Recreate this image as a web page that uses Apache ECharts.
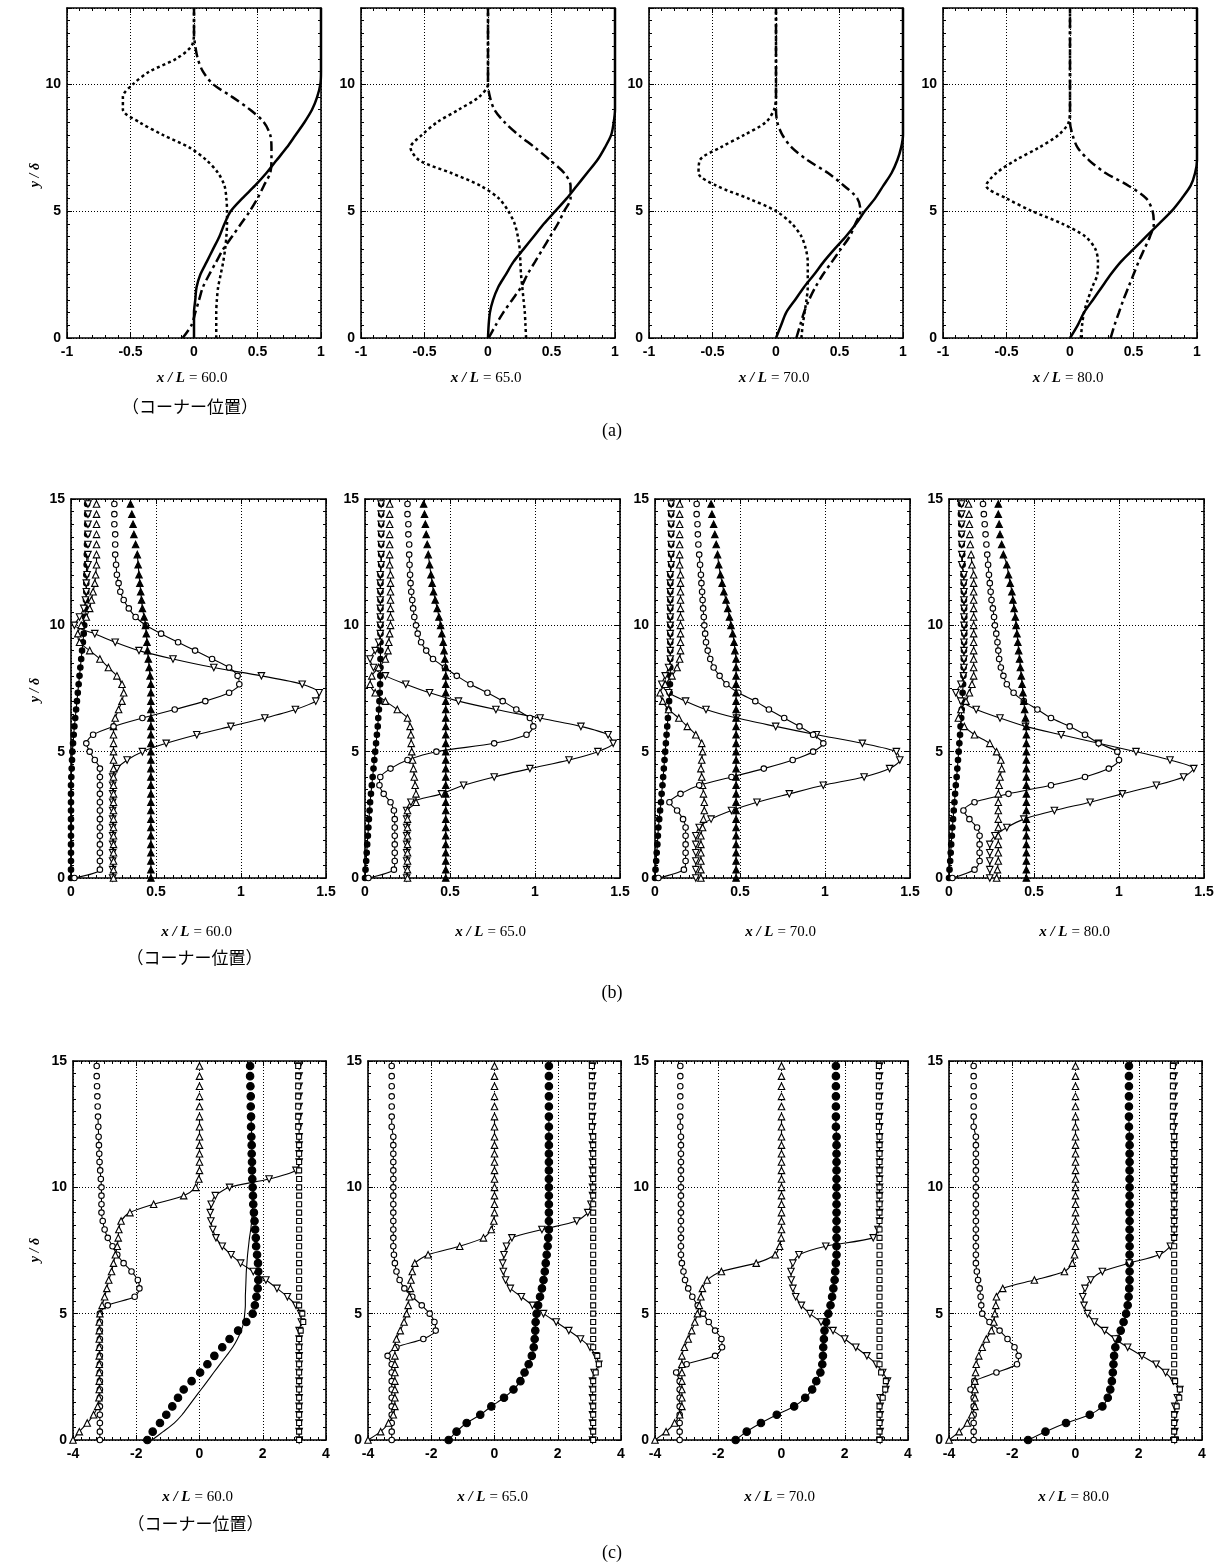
<!DOCTYPE html>
<html><head><meta charset="utf-8">
<script src="https://cdn.jsdelivr.net/npm/echarts@6/dist/echarts.min.js"></script>
<style>html,body{margin:0;padding:0;background:#fff}#c{width:1225px;height:1567px}</style>
</head><body><div id="c"></div>
<script>
// ---------- labels ----------
const stations = ['60.0', '65.0', '70.0', '80.0'];
const cornerNote = '（コーナー位置）';
const rowTags = ['(a)', '(b)', '(c)'];
const yTitle = 'y / δ';
// axis ranges [min, max, interval, minorSplit]
const xRangeA = [-1, 1, 0.5, 5], yRangeA = [0, 13, 5, 10];
const xRangeB = [0, 1.5, 0.5, 10], yRangeB = [0, 15, 5, 10];
const xRangeC = [-4, 4, 2, 8], yRangeC = [0, 15, 5, 10];

// ---------- row (a) : y positions and curves ----------
const yA = [0,0.5,1,1.5,2,2.5,3,3.5,4,4.5,5,5.5,6,6.5,7,7.5,8,8.5,9,9.5,10,10.5,11,11.5,12,12.5,13];
const a60Solid = [0,0,0,0.01,0.02,0.05,0.1,0.15,0.2,0.24,0.29,0.38,0.48,0.57,0.65,0.73,0.8,0.87,0.93,0.97,0.995,1,1,1,1,1,1];
const a60Dot   = [0.175,0.175,0.175,0.18,0.19,0.21,0.23,0.245,0.255,0.26,0.26,0.255,0.24,0.19,0.1,-0.035,-0.245,-0.43,-0.56,-0.56,-0.48,-0.35,-0.14,-0.02,0,0,0];
const a60Dash  = [-0.09,-0.02,0.01,0.04,0.07,0.12,0.175,0.23,0.3,0.37,0.44,0.5,0.55,0.6,0.61,0.61,0.6,0.55,0.44,0.3,0.15,0.07,0.03,0.01,0,0,0];
const a65Solid = [0,0.005,0.015,0.04,0.08,0.14,0.2,0.28,0.36,0.44,0.53,0.62,0.7,0.78,0.86,0.92,0.97,0.99,1,1,1,1,1,1,1,1,1];
const a65Dot   = [0.3,0.295,0.29,0.28,0.27,0.26,0.255,0.25,0.235,0.21,0.16,0.085,-0.06,-0.29,-0.54,-0.61,-0.52,-0.4,-0.23,-0.07,0,0,0,0,0,0,0];
const a65Dash  = [0.005,0.06,0.12,0.19,0.26,0.31,0.37,0.43,0.49,0.55,0.6,0.65,0.65,0.6,0.49,0.37,0.24,0.13,0.05,0.015,0,0,0,0,0,0,0];
const a70Solid = [0,0.04,0.08,0.15,0.22,0.3,0.375,0.46,0.55,0.63,0.7,0.78,0.845,0.91,0.955,0.985,1,1,1,1,1,1,1,1,1,1,1];
const a70Dot   = [0.2,0.21,0.225,0.24,0.25,0.25,0.25,0.235,0.2,0.125,0,-0.22,-0.47,-0.61,-0.6,-0.44,-0.25,-0.08,-0.015,0,0,0,0,0,0,0,0];
const a70Dash  = [0.16,0.19,0.22,0.26,0.31,0.37,0.44,0.51,0.58,0.625,0.665,0.64,0.535,0.41,0.25,0.125,0.05,0.01,0,0,0,0,0,0,0,0,0];
const a80Solid = [0,0.06,0.11,0.18,0.25,0.32,0.4,0.5,0.6,0.7,0.8,0.88,0.95,0.985,1,1,1,1,1,1,1,1,1,1,1,1,1];
const a80Dot   = [0.085,0.095,0.11,0.14,0.175,0.215,0.22,0.2,0.12,-0.06,-0.3,-0.5,-0.66,-0.58,-0.43,-0.245,-0.09,-0.01,0,0,0,0,0,0,0,0,0];
const a80Dash  = [0.32,0.35,0.385,0.42,0.46,0.5,0.54,0.585,0.63,0.66,0.65,0.6,0.46,0.28,0.15,0.06,0.02,0,0,0,0,0,0,0,0,0,0];

// ---------- rows (b),(c): measurement heights ----------
const yP = [0,0.33,0.67,1,1.33,1.67,2,2.33,2.67,3,3.33,3.67,4,4.33,4.67,5,5.33,5.67,6,6.33,6.67,7,7.33,7.67,8,8.33,8.67,9,9.33,9.67,10,10.33,10.67,11,11.33,11.67,12,12.4,12.8,13.2,13.6,14,14.4,14.8];

// ---------- row (b) ----------
const b60Fill = [0,0,0,0,0,0,0,0,0,0,0,0,0.002,0.004,0.006,0.008,0.012,0.016,0.02,0.025,0.03,0.035,0.04,0.045,0.05,0.055,0.06,0.065,0.07,0.075,0.078,0.082,0.085,0.088,0.09,0.09,0.09,0.092,0.093,0.094,0.095,0.095,0.095,0.095];
const b60Dn   = [0.245,0.245,0.245,0.245,0.245,0.245,0.245,0.245,0.245,0.245,0.245,0.245,0.245,0.27,0.33,0.42,0.56,0.74,0.94,1.14,1.32,1.44,1.46,1.36,1.12,0.84,0.6,0.4,0.26,0.14,0.02,0.05,0.075,0.085,0.09,0.09,0.095,0.1,0.1,0.1,0.1,0.1,0.1,0.1];
const b60Up   = [0.25,0.25,0.25,0.25,0.25,0.25,0.25,0.25,0.25,0.25,0.25,0.25,0.25,0.25,0.25,0.25,0.25,0.25,0.25,0.26,0.28,0.3,0.31,0.3,0.27,0.22,0.17,0.11,0.05,0.04,0.06,0.09,0.11,0.12,0.13,0.14,0.145,0.15,0.15,0.15,0.15,0.15,0.15,0.15];
const b60Circ = [0.02,0.17,0.17,0.17,0.17,0.17,0.17,0.17,0.17,0.17,0.17,0.17,0.17,0.17,0.14,0.11,0.09,0.13,0.25,0.42,0.61,0.79,0.93,0.99,0.98,0.93,0.83,0.73,0.63,0.53,0.44,0.38,0.34,0.31,0.29,0.28,0.27,0.265,0.26,0.26,0.26,0.255,0.255,0.255];
const b60Tri  = [0.47,0.47,0.47,0.47,0.47,0.47,0.47,0.47,0.47,0.47,0.47,0.47,0.47,0.47,0.47,0.47,0.47,0.47,0.47,0.47,0.47,0.47,0.47,0.47,0.465,0.46,0.455,0.45,0.447,0.443,0.438,0.43,0.42,0.415,0.41,0.405,0.4,0.395,0.39,0.38,0.37,0.365,0.358,0.35];

const b65Fill = [0,0.003,0.007,0.01,0.013,0.017,0.02,0.023,0.027,0.03,0.035,0.04,0.045,0.05,0.055,0.06,0.065,0.07,0.075,0.078,0.082,0.085,0.087,0.089,0.09,0.091,0.091,0.091,0.091,0.091,0.091,0.091,0.091,0.091,0.091,0.091,0.091,0.095,0.095,0.095,0.095,0.095,0.095,0.095];
const b65Dn   = [0.245,0.245,0.245,0.245,0.245,0.245,0.245,0.245,0.245,0.27,0.45,0.58,0.76,0.97,1.2,1.37,1.46,1.43,1.27,1.03,0.77,0.55,0.38,0.24,0.12,0.05,0.03,0.06,0.08,0.09,0.09,0.09,0.09,0.09,0.09,0.09,0.09,0.095,0.095,0.095,0.095,0.095,0.095,0.095];
const b65Up   = [0.25,0.25,0.25,0.25,0.25,0.25,0.25,0.25,0.25,0.3,0.3,0.295,0.29,0.285,0.28,0.275,0.272,0.27,0.265,0.25,0.19,0.12,0.06,0.03,0.04,0.08,0.12,0.135,0.14,0.145,0.15,0.15,0.15,0.15,0.15,0.15,0.15,0.145,0.145,0.145,0.145,0.145,0.145,0.145];
const b65Circ = [0.02,0.17,0.175,0.175,0.175,0.175,0.175,0.175,0.17,0.15,0.11,0.085,0.09,0.15,0.25,0.42,0.76,0.95,0.99,0.97,0.89,0.81,0.72,0.62,0.54,0.47,0.4,0.36,0.33,0.31,0.3,0.29,0.283,0.278,0.272,0.268,0.265,0.262,0.26,0.26,0.255,0.255,0.25,0.25];
const b65Tri  = [0.475,0.475,0.475,0.475,0.475,0.475,0.475,0.475,0.475,0.475,0.475,0.475,0.475,0.475,0.475,0.475,0.475,0.475,0.475,0.475,0.475,0.475,0.475,0.475,0.475,0.475,0.47,0.465,0.46,0.452,0.445,0.435,0.425,0.413,0.403,0.395,0.388,0.38,0.372,0.366,0.36,0.355,0.35,0.345];

const b70Fill = [0,0.003,0.007,0.01,0.014,0.017,0.02,0.025,0.03,0.035,0.039,0.044,0.048,0.052,0.056,0.06,0.064,0.068,0.072,0.076,0.08,0.083,0.086,0.088,0.09,0.09,0.09,0.09,0.09,0.09,0.09,0.09,0.09,0.09,0.09,0.09,0.09,0.095,0.095,0.095,0.095,0.095,0.095,0.095];
const b70Dn   = [0.24,0.24,0.24,0.24,0.24,0.24,0.26,0.33,0.45,0.6,0.79,0.99,1.23,1.38,1.44,1.42,1.22,0.95,0.71,0.48,0.3,0.18,0.08,0.04,0.06,0.08,0.09,0.09,0.09,0.09,0.09,0.09,0.09,0.09,0.09,0.09,0.09,0.095,0.095,0.095,0.095,0.095,0.095,0.095];
const b70Up   = [0.27,0.27,0.27,0.27,0.27,0.27,0.28,0.285,0.29,0.29,0.285,0.28,0.275,0.27,0.275,0.28,0.275,0.24,0.19,0.14,0.08,0.045,0.03,0.06,0.1,0.13,0.145,0.15,0.15,0.15,0.15,0.15,0.15,0.15,0.15,0.15,0.15,0.145,0.145,0.145,0.145,0.145,0.145,0.145];
const b70Circ = [0.02,0.17,0.18,0.18,0.18,0.18,0.18,0.165,0.13,0.085,0.15,0.26,0.45,0.64,0.81,0.93,0.99,0.93,0.85,0.76,0.67,0.59,0.49,0.42,0.38,0.345,0.325,0.31,0.3,0.295,0.29,0.287,0.283,0.28,0.277,0.273,0.27,0.265,0.26,0.255,0.252,0.25,0.245,0.245];
const b70Tri  = [0.477,0.477,0.477,0.477,0.477,0.477,0.477,0.477,0.477,0.477,0.477,0.477,0.477,0.477,0.477,0.477,0.477,0.477,0.477,0.477,0.477,0.477,0.477,0.477,0.477,0.477,0.477,0.47,0.465,0.457,0.447,0.438,0.428,0.418,0.405,0.395,0.385,0.375,0.368,0.36,0.352,0.345,0.335,0.33];

const b80Fill = [0,0.003,0.007,0.01,0.013,0.017,0.02,0.024,0.028,0.032,0.036,0.04,0.045,0.049,0.053,0.057,0.061,0.065,0.068,0.072,0.075,0.078,0.08,0.083,0.085,0.086,0.087,0.088,0.089,0.09,0.09,0.09,0.089,0.088,0.087,0.086,0.085,0.08,0.078,0.075,0.073,0.072,0.07,0.07];
const b80Dn   = [0.24,0.24,0.24,0.24,0.24,0.27,0.34,0.44,0.62,0.83,1.02,1.22,1.38,1.44,1.3,1.1,0.88,0.66,0.45,0.3,0.16,0.07,0.04,0.07,0.085,0.088,0.088,0.088,0.088,0.088,0.088,0.088,0.088,0.088,0.088,0.088,0.088,0.075,0.075,0.075,0.075,0.075,0.075,0.075];
const b80Up   = [0.28,0.285,0.29,0.29,0.29,0.29,0.29,0.29,0.29,0.29,0.29,0.295,0.3,0.31,0.305,0.28,0.24,0.15,0.09,0.055,0.07,0.1,0.12,0.135,0.145,0.145,0.145,0.145,0.145,0.145,0.145,0.145,0.145,0.145,0.145,0.145,0.145,0.135,0.13,0.125,0.122,0.12,0.118,0.115];
const b80Circ = [0.02,0.15,0.18,0.18,0.18,0.18,0.165,0.12,0.085,0.15,0.35,0.6,0.8,0.94,1.0,0.99,0.88,0.8,0.71,0.6,0.52,0.44,0.38,0.34,0.32,0.305,0.295,0.29,0.285,0.278,0.27,0.265,0.258,0.25,0.245,0.24,0.235,0.23,0.225,0.22,0.215,0.21,0.205,0.2];
const b80Tri  = [0.455,0.455,0.455,0.455,0.455,0.455,0.455,0.455,0.455,0.455,0.455,0.455,0.455,0.455,0.455,0.455,0.455,0.455,0.455,0.45,0.445,0.44,0.435,0.43,0.425,0.42,0.415,0.41,0.405,0.4,0.395,0.39,0.383,0.376,0.37,0.36,0.35,0.34,0.32,0.31,0.3,0.295,0.29,0.29];

// ---------- row (c) ----------
const c60Circ = [-3.15,-3.15,-3.15,-3.15,-3.15,-3.15,-3.15,-3.15,-3.15,-3.15,-3.15,-3.15,-3.15,-3.15,-3.15,-3.15,-2.9,-2.05,-1.9,-1.95,-2.15,-2.4,-2.6,-2.75,-2.9,-3.0,-3.06,-3.1,-3.1,-3.1,-3.1,-3.12,-3.14,-3.16,-3.17,-3.18,-3.19,-3.2,-3.21,-3.22,-3.23,-3.24,-3.25,-3.25];
const c60Up   = [-4.0,-3.8,-3.55,-3.35,-3.22,-3.18,-3.17,-3.17,-3.17,-3.17,-3.17,-3.17,-3.17,-3.17,-3.17,-3.15,-3.08,-3.0,-2.93,-2.87,-2.78,-2.72,-2.66,-2.6,-2.57,-2.55,-2.48,-2.2,-1.45,-0.5,-0.12,-0.02,0,0,0,0,0,0,0,0,0,0,0,0];
const c60Fill = [-1.65,-1.48,-1.25,-1.05,-0.86,-0.68,-0.5,-0.25,0.02,0.25,0.47,0.72,0.95,1.22,1.48,1.68,1.75,1.8,1.84,1.86,1.86,1.85,1.82,1.79,1.78,1.76,1.74,1.72,1.7,1.69,1.68,1.67,1.66,1.66,1.65,1.65,1.64,1.63,1.63,1.62,1.62,1.61,1.6,1.6];
const c60FillLine = [-1.5,-1.15,-0.8,-0.55,-0.35,-0.15,0.05,0.25,0.45,0.65,0.85,1.05,1.2,1.32,1.4,1.43,1.45,1.45,1.46,1.47,1.48,1.5,1.52,1.55,1.58,1.62,1.65,1.67,1.69,1.7,1.7,1.69,1.68,1.67,1.66,1.66,1.65,1.64,1.63,1.62,1.62,1.61,1.6,1.6];
const c60Dn   = [3.15,3.15,3.15,3.15,3.15,3.15,3.15,3.15,3.15,3.15,3.15,3.15,3.15,3.15,3.22,3.2,3.05,2.78,2.45,2.1,1.7,1.3,1.0,0.72,0.52,0.42,0.36,0.34,0.37,0.5,0.95,2.2,3.05,3.15,3.15,3.15,3.15,3.15,3.15,3.15,3.15,3.15,3.15,3.15];
const c60Box  = [3.15,3.15,3.15,3.15,3.15,3.15,3.15,3.15,3.15,3.15,3.15,3.15,3.15,3.2,3.28,3.25,3.15,3.15,3.15,3.15,3.15,3.15,3.15,3.15,3.15,3.15,3.15,3.15,3.15,3.15,3.15,3.15,3.15,3.15,3.15,3.15,3.15,3.12,3.12,3.12,3.12,3.12,3.12,3.12];

const c65Circ = [-3.25,-3.25,-3.25,-3.25,-3.25,-3.25,-3.25,-3.25,-3.25,-3.25,-3.38,-3.1,-2.25,-1.86,-1.9,-2.05,-2.3,-2.6,-2.85,-3.0,-3.1,-3.15,-3.18,-3.2,-3.2,-3.2,-3.2,-3.2,-3.2,-3.2,-3.2,-3.2,-3.2,-3.2,-3.2,-3.2,-3.2,-3.25,-3.25,-3.25,-3.25,-3.25,-3.25,-3.25];
const c65Up   = [-4.0,-3.6,-3.35,-3.2,-3.15,-3.15,-3.15,-3.15,-3.15,-3.15,-3.15,-3.15,-3.1,-2.98,-2.86,-2.78,-2.73,-2.69,-2.66,-2.64,-2.6,-2.52,-2.1,-1.1,-0.35,-0.1,-0.02,0,0,0,0,0,0,0,0,0,0,0,0,0,0,0,0,0];
const c65Fill = [-1.45,-1.2,-0.88,-0.45,-0.1,0.3,0.6,0.82,0.95,1.08,1.18,1.24,1.27,1.29,1.3,1.33,1.38,1.44,1.5,1.55,1.59,1.62,1.65,1.68,1.7,1.72,1.72,1.72,1.72,1.72,1.72,1.72,1.72,1.72,1.72,1.72,1.72,1.72,1.72,1.72,1.72,1.72,1.72,1.72];
const c65Dn   = [3.1,3.1,3.1,3.1,3.1,3.1,3.1,3.1,3.15,3.3,3.2,3.02,2.72,2.35,1.95,1.55,1.2,0.85,0.5,0.35,0.28,0.26,0.3,0.38,0.55,1.5,2.6,2.95,3.05,3.1,3.1,3.1,3.1,3.1,3.1,3.1,3.1,3.1,3.1,3.1,3.1,3.1,3.1,3.1];
const c65Box  = [3.12,3.12,3.12,3.12,3.12,3.12,3.12,3.12,3.2,3.3,3.25,3.12,3.12,3.12,3.12,3.12,3.12,3.12,3.12,3.12,3.12,3.12,3.12,3.12,3.12,3.12,3.12,3.12,3.12,3.12,3.12,3.12,3.12,3.12,3.12,3.12,3.12,3.08,3.08,3.08,3.08,3.08,3.08,3.08];

const c70Circ = [-3.22,-3.22,-3.22,-3.22,-3.22,-3.22,-3.22,-3.22,-3.33,-3.0,-2.1,-1.88,-1.9,-2.1,-2.3,-2.48,-2.65,-2.82,-2.95,-3.05,-3.1,-3.15,-3.18,-3.18,-3.18,-3.18,-3.18,-3.18,-3.18,-3.18,-3.18,-3.18,-3.18,-3.18,-3.18,-3.18,-3.18,-3.2,-3.2,-3.2,-3.2,-3.2,-3.2,-3.2];
const c70Up   = [-4.0,-3.65,-3.38,-3.22,-3.15,-3.15,-3.15,-3.15,-3.15,-3.15,-3.15,-3.07,-2.95,-2.84,-2.74,-2.66,-2.6,-2.55,-2.5,-2.35,-1.9,-0.8,-0.2,-0.06,-0.01,0,0,0,0,0,0,0,0,0,0,0,0,0,0,0,0,0,0,0];
const c70Fill = [-1.45,-1.1,-0.65,-0.15,0.4,0.75,0.97,1.1,1.23,1.29,1.31,1.32,1.34,1.36,1.41,1.48,1.55,1.6,1.64,1.68,1.7,1.72,1.74,1.74,1.74,1.74,1.74,1.74,1.74,1.74,1.74,1.74,1.74,1.74,1.74,1.74,1.74,1.72,1.72,1.72,1.72,1.72,1.72,1.72];
const c70Dn   = [3.12,3.12,3.12,3.12,3.12,3.12,3.3,3.35,3.2,3.0,2.7,2.35,2.0,1.63,1.25,0.9,0.63,0.45,0.36,0.31,0.3,0.36,0.55,1.4,2.9,3.05,3.1,3.1,3.1,3.1,3.1,3.1,3.1,3.1,3.1,3.1,3.1,3.1,3.1,3.1,3.1,3.1,3.1,3.1];
const c70Box  = [3.1,3.1,3.1,3.1,3.1,3.2,3.28,3.3,3.15,3.1,3.1,3.1,3.1,3.1,3.1,3.1,3.1,3.1,3.1,3.1,3.1,3.1,3.1,3.1,3.1,3.1,3.1,3.1,3.1,3.1,3.1,3.1,3.1,3.1,3.1,3.1,3.1,3.08,3.08,3.08,3.08,3.08,3.08,3.08];

const c80Circ = [-3.22,-3.22,-3.22,-3.22,-3.22,-3.22,-3.32,-3.2,-2.5,-1.85,-1.8,-1.93,-2.15,-2.4,-2.72,-2.95,-2.98,-3.0,-3.03,-3.08,-3.12,-3.15,-3.15,-3.15,-3.15,-3.15,-3.15,-3.15,-3.15,-3.15,-3.15,-3.15,-3.15,-3.15,-3.15,-3.15,-3.15,-3.22,-3.22,-3.22,-3.22,-3.22,-3.22,-3.22];
const c80Up   = [-4.0,-3.68,-3.42,-3.28,-3.18,-3.18,-3.18,-3.18,-3.16,-3.14,-3.06,-2.95,-2.82,-2.66,-2.58,-2.55,-2.52,-2.5,-2.3,-1.3,-0.35,-0.1,-0.03,0,0,0,0,0,0,0,0,0,0,0,0,0,0,0,0,0,0,0,0,0];
const c80Fill = [-1.5,-0.95,-0.3,0.45,0.85,1.02,1.1,1.15,1.18,1.2,1.22,1.26,1.33,1.43,1.52,1.6,1.65,1.68,1.7,1.71,1.71,1.71,1.71,1.71,1.71,1.71,1.71,1.71,1.71,1.71,1.71,1.71,1.71,1.71,1.71,1.71,1.71,1.69,1.69,1.69,1.69,1.69,1.69,1.69];
const c80Dn   = [3.14,3.14,3.14,3.14,3.14,3.22,3.3,3.1,2.85,2.55,2.1,1.65,1.25,0.92,0.6,0.38,0.27,0.23,0.3,0.48,0.85,1.7,2.65,3.0,3.12,3.12,3.12,3.12,3.12,3.12,3.12,3.12,3.12,3.12,3.12,3.12,3.12,3.12,3.12,3.12,3.12,3.12,3.12,3.12];
const c80Box  = [3.12,3.12,3.12,3.12,3.2,3.28,3.3,3.15,3.12,3.12,3.12,3.12,3.12,3.12,3.12,3.12,3.12,3.12,3.12,3.12,3.12,3.12,3.12,3.12,3.12,3.12,3.12,3.12,3.12,3.12,3.12,3.12,3.12,3.12,3.12,3.12,3.12,3.08,3.08,3.08,3.08,3.08,3.08,3.08];

// ---------- layout (positions/styles) ----------
const rowsLayout = [
  {left: [67, 361, 649, 943], top: 8, height: 330, width: 254, xr: xRangeA, yr: yRangeA, titleY: 378, noteY: 407, tagY: 431, yTitleY: 175},
  {left: [71, 365, 655, 949], top: 499, height: 379, width: 255, xr: xRangeB, yr: yRangeB, titleY: 932, noteY: 958, tagY: 993, yTitleY: 690},
  {left: [73, 368, 655, 949], top: 1061, height: 379, width: 253, xr: xRangeC, yr: yRangeC, titleY: 1497, noteY: 1524, tagY: 1553, yTitleY: 1250}
];

const panelsA = [[a60Solid, a60Dot, a60Dash], [a65Solid, a65Dot, a65Dash], [a70Solid, a70Dot, a70Dash], [a80Solid, a80Dot, a80Dash]];
const panelsB = [[b60Fill, b60Dn, b60Up, b60Circ, b60Tri], [b65Fill, b65Dn, b65Up, b65Circ, b65Tri], [b70Fill, b70Dn, b70Up, b70Circ, b70Tri], [b80Fill, b80Dn, b80Up, b80Circ, b80Tri]];
const panelsC = [[c60Circ, c60Up, c60Fill, c60Dn, c60Box, c60FillLine], [c65Circ, c65Up, c65Fill, c65Dn, c65Box, c65Fill], [c70Circ, c70Up, c70Fill, c70Dn, c70Box, c70Fill], [c80Circ, c80Up, c80Fill, c80Dn, c80Box, c80Fill]];

const lineDashA = ['solid', [3, 3], [10, 4, 3, 4]];
const markB = [
  {symbol: 'circle', size: 5.5, fill: '#000', rot: 0, line: true},
  {symbol: 'triangle', size: 6.5, fill: '#fff', rot: 180, line: true},
  {symbol: 'triangle', size: 6.5, fill: '#fff', rot: 0, line: true},
  {symbol: 'circle', size: 5.5, fill: '#fff', rot: 0, line: true},
  {symbol: 'triangle', size: 6.5, fill: '#000', rot: 0, line: true}
];
const markC = [
  {symbol: 'circle', size: 5.5, fill: '#fff', rot: 0, line: true},
  {symbol: 'triangle', size: 6.5, fill: '#fff', rot: 0, line: true},
  {symbol: 'circle', size: 7.5, fill: '#000', rot: 0, line: false},
  {symbol: 'triangle', size: 6.5, fill: '#fff', rot: 180, line: true},
  {symbol: 'rect', size: 5, fill: '#fff', rot: 0, line: false}
];

const labelFont = {fontFamily: 'Liberation Sans', fontWeight: 'bold', fontSize: 14, color: '#000'};
const pairs = (xs, ys) => xs.map((x, i) => [x, ys[i]]);
const LINE_TOP = 12.9;

const grid = [], xAxis = [], yAxis = [], series = [], graphic = [];

function addAxes(g, L, c) {
  grid.push({left: L.left[c], top: L.top, width: L.width, height: L.height, containLabel: false});
  const common = (r, pos, isX, main) => ({
    gridIndex: g, type: 'value', position: pos, min: r[0], max: r[1], interval: r[2],
    axisLine: {show: true, onZero: false, lineStyle: {color: '#000', width: 1.6}},
    axisTick: {show: true, inside: true, length: 5, lineStyle: {color: '#000', width: 1}},
    minorTick: {show: true, splitNumber: r[3], length: 3, lineStyle: {color: '#000', width: 1}},
    splitLine: {show: main, lineStyle: {type: [1, 2], color: '#000', width: 1}},
    axisLabel: main ? Object.assign({show: true, margin: isX ? 7 : 6, showMaxLabel: !(!isX && r[1] % r[2] !== 0)}, labelFont) : {show: false}
  });
  xAxis.push(common(L.xr, 'bottom', true, true));
  xAxis.push(common(L.xr, 'top', true, false));
  yAxis.push(common(L.yr, 'left', false, true));
  yAxis.push(common(L.yr, 'right', false, false));
}

let g = 0;
rowsLayout.forEach((L, r) => {
  for (let c = 0; c < 4; c++) {
    addAxes(g, L, c);
    const ax = {xAxisIndex: 2 * g, yAxisIndex: 2 * g};
    if (r === 0) {
      panelsA[c].forEach((xs, k) => {
        series.push(Object.assign({type: 'line', data: pairs(xs, yA), symbol: 'none', smooth: 0.3, z: 3,
          lineStyle: {color: '#000', width: 2.5, type: lineDashA[k], cap: 'butt'}}, ax));
      });
    } else {
      const P = r === 1 ? panelsB[c] : panelsC[c];
      const M = r === 1 ? markB : markC;
      M.forEach((m, k) => {
        const pts = pairs(P[k], yP);
        if (m.line) {
          series.push(Object.assign({type: 'line', data: pts.filter(p => p[1] <= LINE_TOP), symbol: 'none', smooth: 0.25, z: 2,
            lineStyle: {color: '#000', width: 1.1}}, ax));
        }
        series.push(Object.assign({type: 'scatter', data: pts, symbol: m.symbol, symbolSize: m.size, symbolRotate: m.rot, z: 4,
          itemStyle: {color: m.fill, borderColor: '#000', borderWidth: 1.1, opacity: 1}}, ax));
      });
      if (r === 2) {
        series.push(Object.assign({type: 'line', data: pairs(P[5], yP).filter(p => p[1] <= LINE_TOP), symbol: 'none', smooth: 0.25, z: 2,
          lineStyle: {color: '#000', width: 1.1}}, ax));
      }
    }
    // station title
    const cx = L.left[c] + L.width / 2;
    graphic.push({type: 'text', x: cx - 9, y: L.titleY, style: {text: 'x / L', textAlign: 'right', textVerticalAlign: 'middle', font: 'italic bold 15px "Liberation Serif"', fill: '#000'}});
    graphic.push({type: 'text', x: cx - 5, y: L.titleY, style: {text: '= ' + stations[c], textAlign: 'left', textVerticalAlign: 'middle', font: '15px "Liberation Serif"', fill: '#000'}});
    if (c === 0) {
      graphic.push({type: 'text', x: cx - 4, y: L.noteY, style: {text: cornerNote, textAlign: 'center', textVerticalAlign: 'middle', font: '17px "Noto Sans CJK JP"', fill: '#000'}});
    }
    g++;
  }
  graphic.push({type: 'text', x: 612, y: L.tagY, style: {text: rowTags[r], textAlign: 'center', textVerticalAlign: 'middle', font: '18px "Liberation Serif"', fill: '#000'}});
  graphic.push({type: 'text', x: 35, y: L.yTitleY, rotation: Math.PI / 2, style: {text: yTitle, textAlign: 'center', textVerticalAlign: 'middle', font: 'italic bold 14px "Liberation Serif"', fill: '#000'}});
});

const chart = echarts.init(document.getElementById('c'), null, {renderer: 'canvas'});
chart.setOption({animation: false, backgroundColor: '#fff', grid, xAxis, yAxis, series, graphic});
</script></body></html>
